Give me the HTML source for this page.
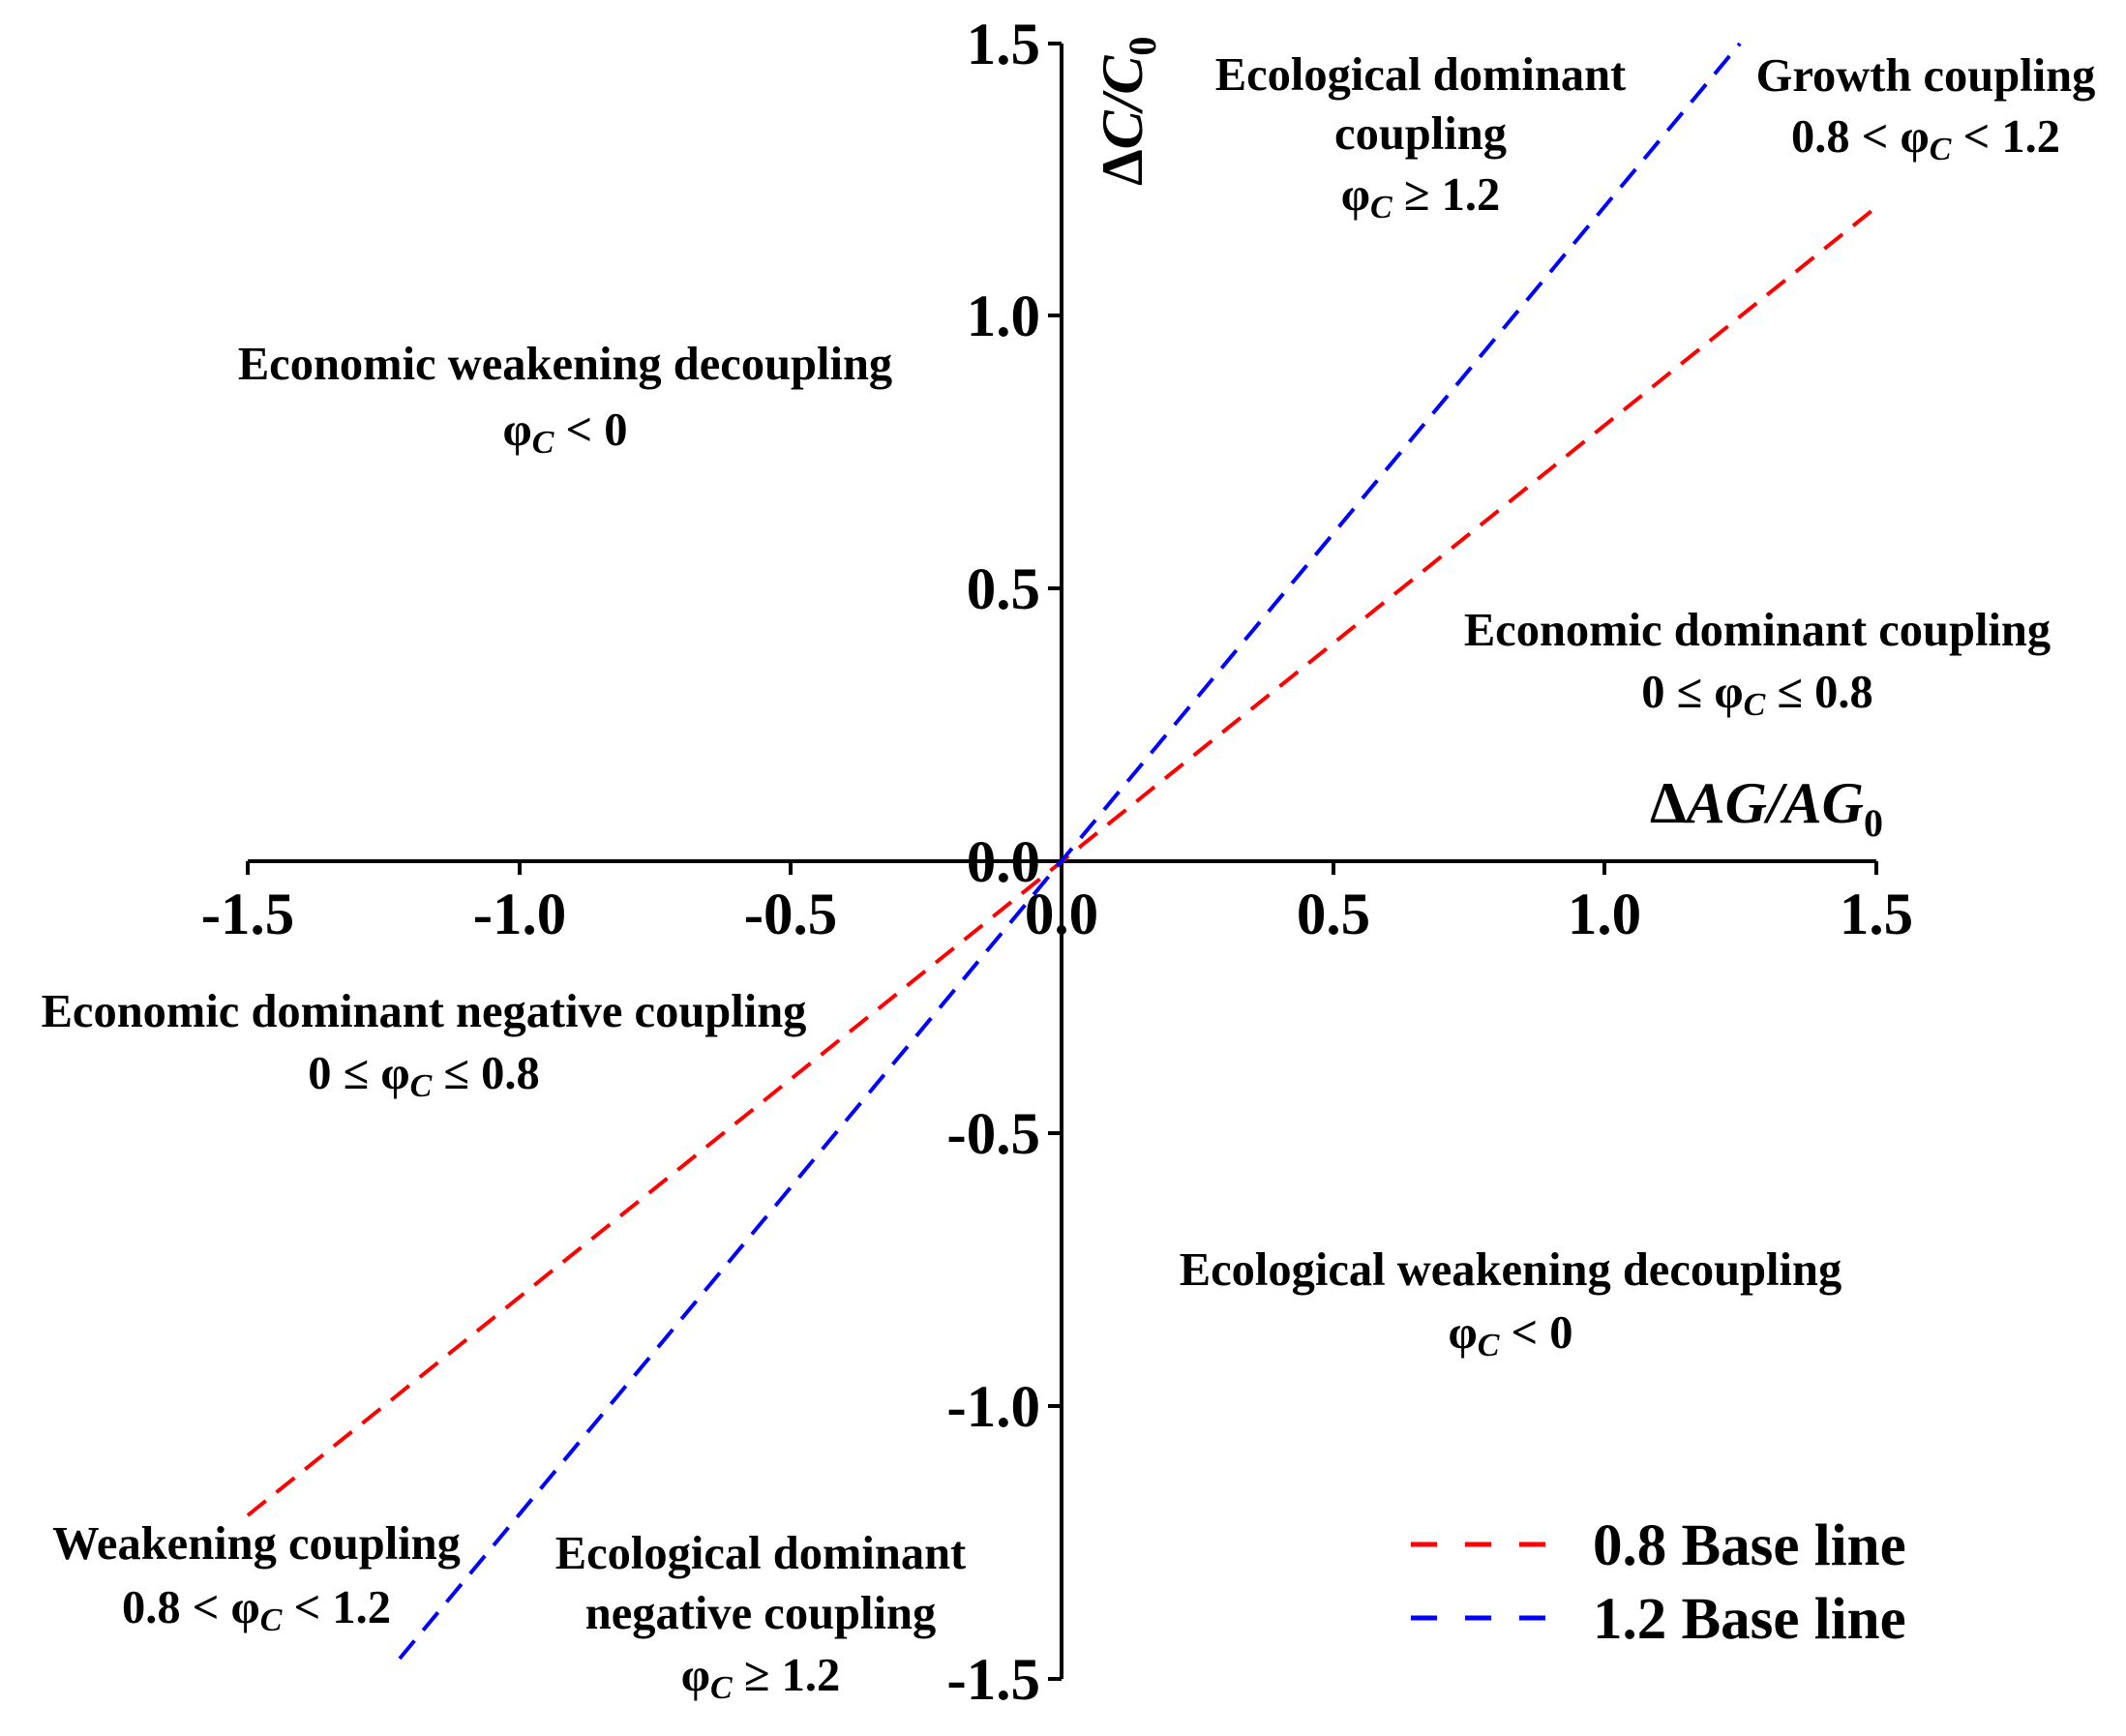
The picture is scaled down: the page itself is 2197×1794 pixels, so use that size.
<!DOCTYPE html>
<html><head><meta charset="utf-8"><style>
html,body{margin:0;padding:0;background:#fff}
svg{display:block}
text{font-family:"Liberation Serif",serif;font-weight:bold;fill:#000}
.t{font-size:48.5px;text-anchor:middle}
.k{font-size:61px}
</style></head><body>
<svg width="2197" height="1794" viewBox="0 0 2197 1794" xmlns="http://www.w3.org/2000/svg">
<g stroke="#000" stroke-width="4" fill="none">
<line x1="1097" y1="45" x2="1097" y2="1735"/>
<line x1="256" y1="890" x2="1939" y2="890"/>
<line x1="1083" y1="45" x2="1097" y2="45"/>
<line x1="1083" y1="326" x2="1097" y2="326"/>
<line x1="1083" y1="608" x2="1097" y2="608"/>
<line x1="1083" y1="890" x2="1097" y2="890"/>
<line x1="1083" y1="1171" x2="1097" y2="1171"/>
<line x1="1083" y1="1453" x2="1097" y2="1453"/>
<line x1="1083" y1="1735" x2="1097" y2="1735"/>
<line x1="256" y1="890" x2="256" y2="904"/>
<line x1="537" y1="890" x2="537" y2="904"/>
<line x1="817" y1="890" x2="817" y2="904"/>
<line x1="1378" y1="890" x2="1378" y2="904"/>
<line x1="1658" y1="890" x2="1658" y2="904"/>
<line x1="1939" y1="890" x2="1939" y2="904"/>
</g>
<line x1="256" y1="1566" x2="1939" y2="214" stroke="#ff0000" stroke-width="4" stroke-dasharray="24 14"/>
<line x1="413" y1="1714" x2="1798" y2="45" stroke="#0000ff" stroke-width="4" stroke-dasharray="24 14"/>
<g class="k" text-anchor="end">
<text x="1075" y="66">1.5</text>
<text x="1075" y="347">1.0</text>
<text x="1075" y="629">0.5</text>
<text x="1075" y="911">0.0</text>
<text x="1075" y="1192">-0.5</text>
<text x="1075" y="1474">-1.0</text>
<text x="1075" y="1756">-1.5</text>
</g>
<g class="k" text-anchor="middle">
<text x="256" y="965">-1.5</text>
<text x="537" y="965">-1.0</text>
<text x="817" y="965">-0.5</text>
<text x="1097" y="965">0.0</text>
<text x="1378" y="965">0.5</text>
<text x="1658" y="965">1.0</text>
<text x="1939" y="965">1.5</text>
</g>
<text x="1705" y="850" style="font-size:60px"><tspan>Δ</tspan><tspan font-style="italic">AG/AG</tspan><tspan dy="14" style="font-size:40px">0</tspan></text>
<text transform="translate(1180,192) rotate(-90)" style="font-size:60px"><tspan>Δ</tspan><tspan font-style="italic">C/C</tspan><tspan dy="14" style="font-size:40px">0</tspan></text>
<g class="t">
<text x="1468" y="93">Ecological dominant</text>
<text x="1468" y="154">coupling</text>
<text x="1468" y="217">φ<tspan dy="8" font-size="34" font-style="italic">C</tspan><tspan dy="-8"> ≥ 1.2</tspan></text>
<text x="1990" y="94">Growth coupling</text>
<text x="1990" y="157">0.8 &lt; φ<tspan dy="8" font-size="34" font-style="italic">C</tspan><tspan dy="-8"> &lt; 1.2</tspan></text>
<text x="584" y="392">Economic weakening decoupling</text>
<text x="584" y="460">φ<tspan dy="8" font-size="34" font-style="italic">C</tspan><tspan dy="-8"> &lt; 0</tspan></text>
<text x="1816" y="667">Economic dominant coupling</text>
<text x="1816" y="731">0 ≤ φ<tspan dy="8" font-size="34" font-style="italic">C</tspan><tspan dy="-8"> ≤ 0.8</tspan></text>
<text x="438" y="1061">Economic dominant negative coupling</text>
<text x="438" y="1125">0 ≤ φ<tspan dy="8" font-size="34" font-style="italic">C</tspan><tspan dy="-8"> ≤ 0.8</tspan></text>
<text x="1561" y="1328">Ecological weakening decoupling</text>
<text x="1561" y="1393">φ<tspan dy="8" font-size="34" font-style="italic">C</tspan><tspan dy="-8"> &lt; 0</tspan></text>
<text x="265" y="1611">Weakening coupling</text>
<text x="265" y="1677">0.8 &lt; φ<tspan dy="8" font-size="34" font-style="italic">C</tspan><tspan dy="-8"> &lt; 1.2</tspan></text>
<text x="786" y="1621">Ecological dominant</text>
<text x="786" y="1683">negative coupling</text>
<text x="786" y="1747">φ<tspan dy="8" font-size="34" font-style="italic">C</tspan><tspan dy="-8"> ≥ 1.2</tspan></text>
</g>
<line x1="1458" y1="1596" x2="1597" y2="1596" stroke="#ff0000" stroke-width="5" stroke-dasharray="27 29"/>
<line x1="1458" y1="1672" x2="1597" y2="1672" stroke="#0000ff" stroke-width="5" stroke-dasharray="27 29"/>
<text x="1646" y="1617" style="font-size:61px">0.8 Base line</text>
<text x="1646" y="1693" style="font-size:61px">1.2 Base line</text>
</svg>
</body></html>
